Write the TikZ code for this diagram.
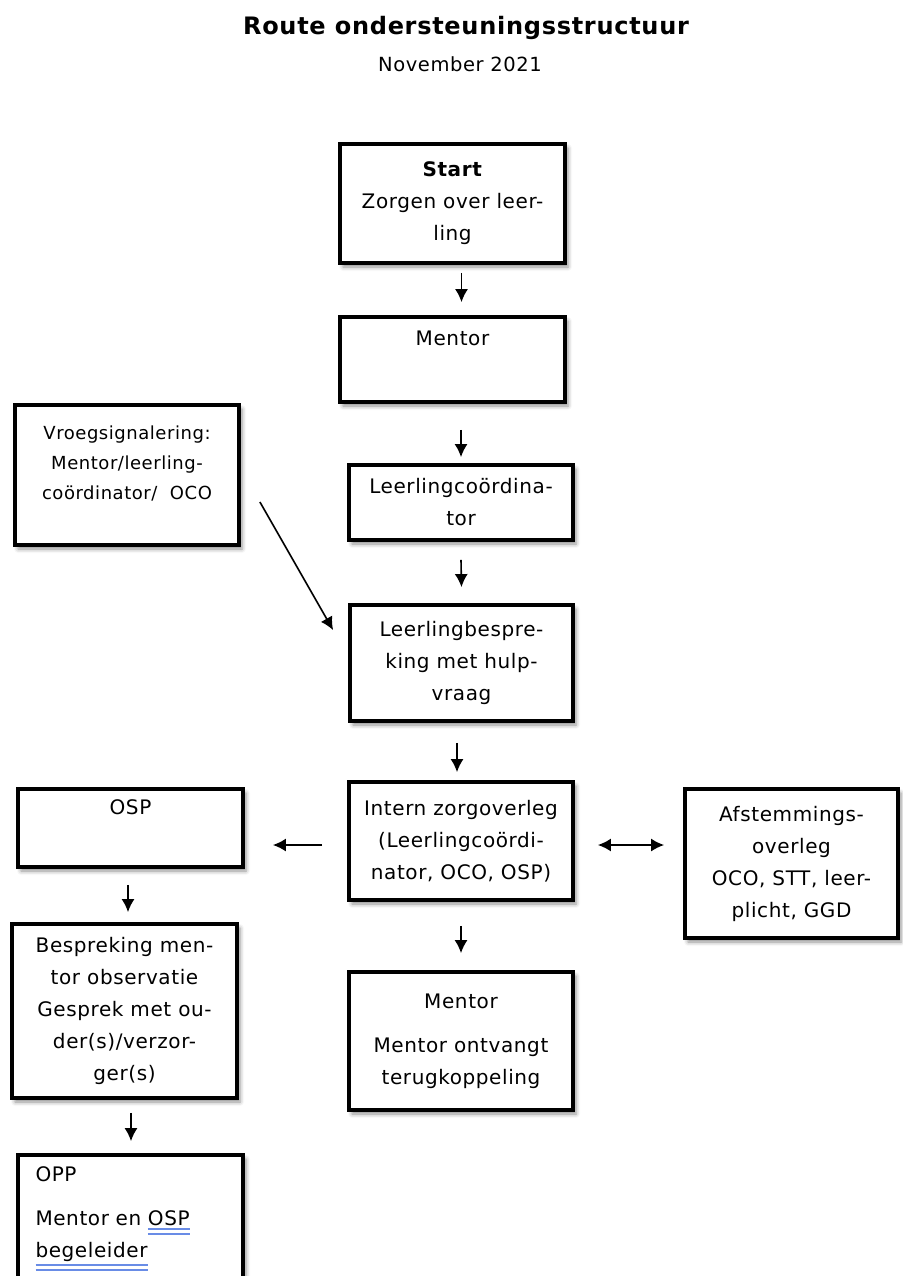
\documentclass[tikz,border=0pt]{standalone}
\usepackage{fontspec}
\setmainfont{DejaVu Sans}[LetterSpace=3]
\usetikzlibrary{arrows.meta, shadows.blur}
\definecolor{ulblue}{RGB}{105,140,230}
\newcommand{\spellul}[1]{\setbox0\hbox{#1}\leavevmode\rlap{\color{ulblue}\rule[\dimexpr-\dp0-4.8pt\relax]{\wd0}{2pt}}\rlap{\color{ulblue}\rule[\dimexpr-\dp0-9pt\relax]{\wd0}{2pt}}\box0}

\begin{document}
\begin{tikzpicture}[x=1pt,y=-1pt,
  box/.style={draw, line width=3.8pt, fill=white, align=center, inner sep=0pt,
    text=black, font=\fontsize{20}{32}\selectfont,
    blur shadow={shadow xshift=3pt, shadow yshift=-4pt, shadow blur radius=4pt, shadow opacity=45}},
  arr/.style={line width=1.6pt, -{Latex[length=13pt,width=13pt]}},
  dblarr/.style={line width=1.6pt, {Latex[length=13pt,width=13pt]}-{Latex[length=13pt,width=13pt]}}]
\useasboundingbox (0,0) rectangle (902,1276);
\node[anchor=base, font=\fontsize{24}{28}\selectfont\bfseries] (title) at (466,35) {Route ondersteuningsstructuur};
\node[anchor=base, font=\fontsize{19.5}{22}\selectfont] (date) at (460,72) {November 2021};
% middle column
\node[box, minimum width=225, minimum height=119] (start) at (452.5,203.5) {\textbf{Start}\\Zorgen over leer-\\ling};
\node[box, minimum width=225, minimum height=85] (mentora) at (452.5,359.5) {Mentor\\\strut};
\node[box, minimum width=224, minimum height=75] (llc) at (461,502.5) {Leerlingcoördina-\\tor};
\node[box, minimum width=223, minimum height=116] (llb) at (461.5,663) {Leerlingbespre-\\king met hulp-\\vraag};
\node[box, minimum width=224, minimum height=118] (intern) at (461,841) {Intern zorgoverleg\\(Leerlingcoördi-\\nator, OCO, OSP)};
\node[box, minimum width=224, minimum height=138] (mentorb) at (461,1041) {Mentor\\[12pt]Mentor ontvangt\\terugkoppeling};
% left column
\node[box, minimum width=224, minimum height=140, font=\fontsize{18}{30}\selectfont] (vroeg) at (127,475) {Vroegsignalering:\\Mentor/leerling-\\coördinator/\ \ OCO\\[-14pt]\strut};
\node[box, minimum width=225, minimum height=78] (osp) at (130.5,828) {OSP\\\strut};
\node[box, minimum width=225, minimum height=174] (besp) at (124.5,1011) {Bespreking men-\\tor observatie\\Gesprek met ou-\\der(s)/verzor-\\ger(s)};
\node[box, minimum width=225, minimum height=127, text width=190, align=left] (opp) at (130.5,1218.5) {OPP\\[12pt]Mentor en \spellul{OSP}\\\spellul{begeleider}};
% right column
\node[box, minimum width=213, minimum height=149] (afst) at (791.5,863.5) {Afstemmings-\\overleg\\OCO, STT, leer-\\plicht, GGD};
% arrows
\draw[arr] ([shift={(9,8)}]start.south) -- ([shift={(9,-13)}]mentora.north);
\draw[arr] ([shift={(8.5,26)}]mentora.south) -- ([shift={(0,-6)}]llc.north);
\draw[arr] ([shift={(0,18)}]llc.south) -- ([shift={(0,-16)}]llb.north);
\draw[arr] ([shift={(-4.5,20)}]llb.south) -- ([shift={(-4,-8)}]intern.north);
\draw[arr] ([shift={(0,24)}]intern.south) -- ([shift={(0,-17)}]mentorb.north);
\draw[arr] ([shift={(19,27)}]vroeg.east) -- ([shift={(-15,27)}]llb.north west);
\draw[arr] ([shift={(-25,4)}]intern.west) -- ([shift={(28,17)}]osp.east);
\draw[dblarr] ([shift={(23,4)}]intern.east) -- ([shift={(-19,-18.5)}]afst.west);
\draw[arr] ([shift={(-2.5,16)}]osp.south) -- ([shift={(3.5,-10)}]besp.north);
\draw[arr] ([shift={(6.5,13)}]besp.south) -- ([shift={(0.5,-12)}]opp.north);
\end{tikzpicture}
\end{document}
